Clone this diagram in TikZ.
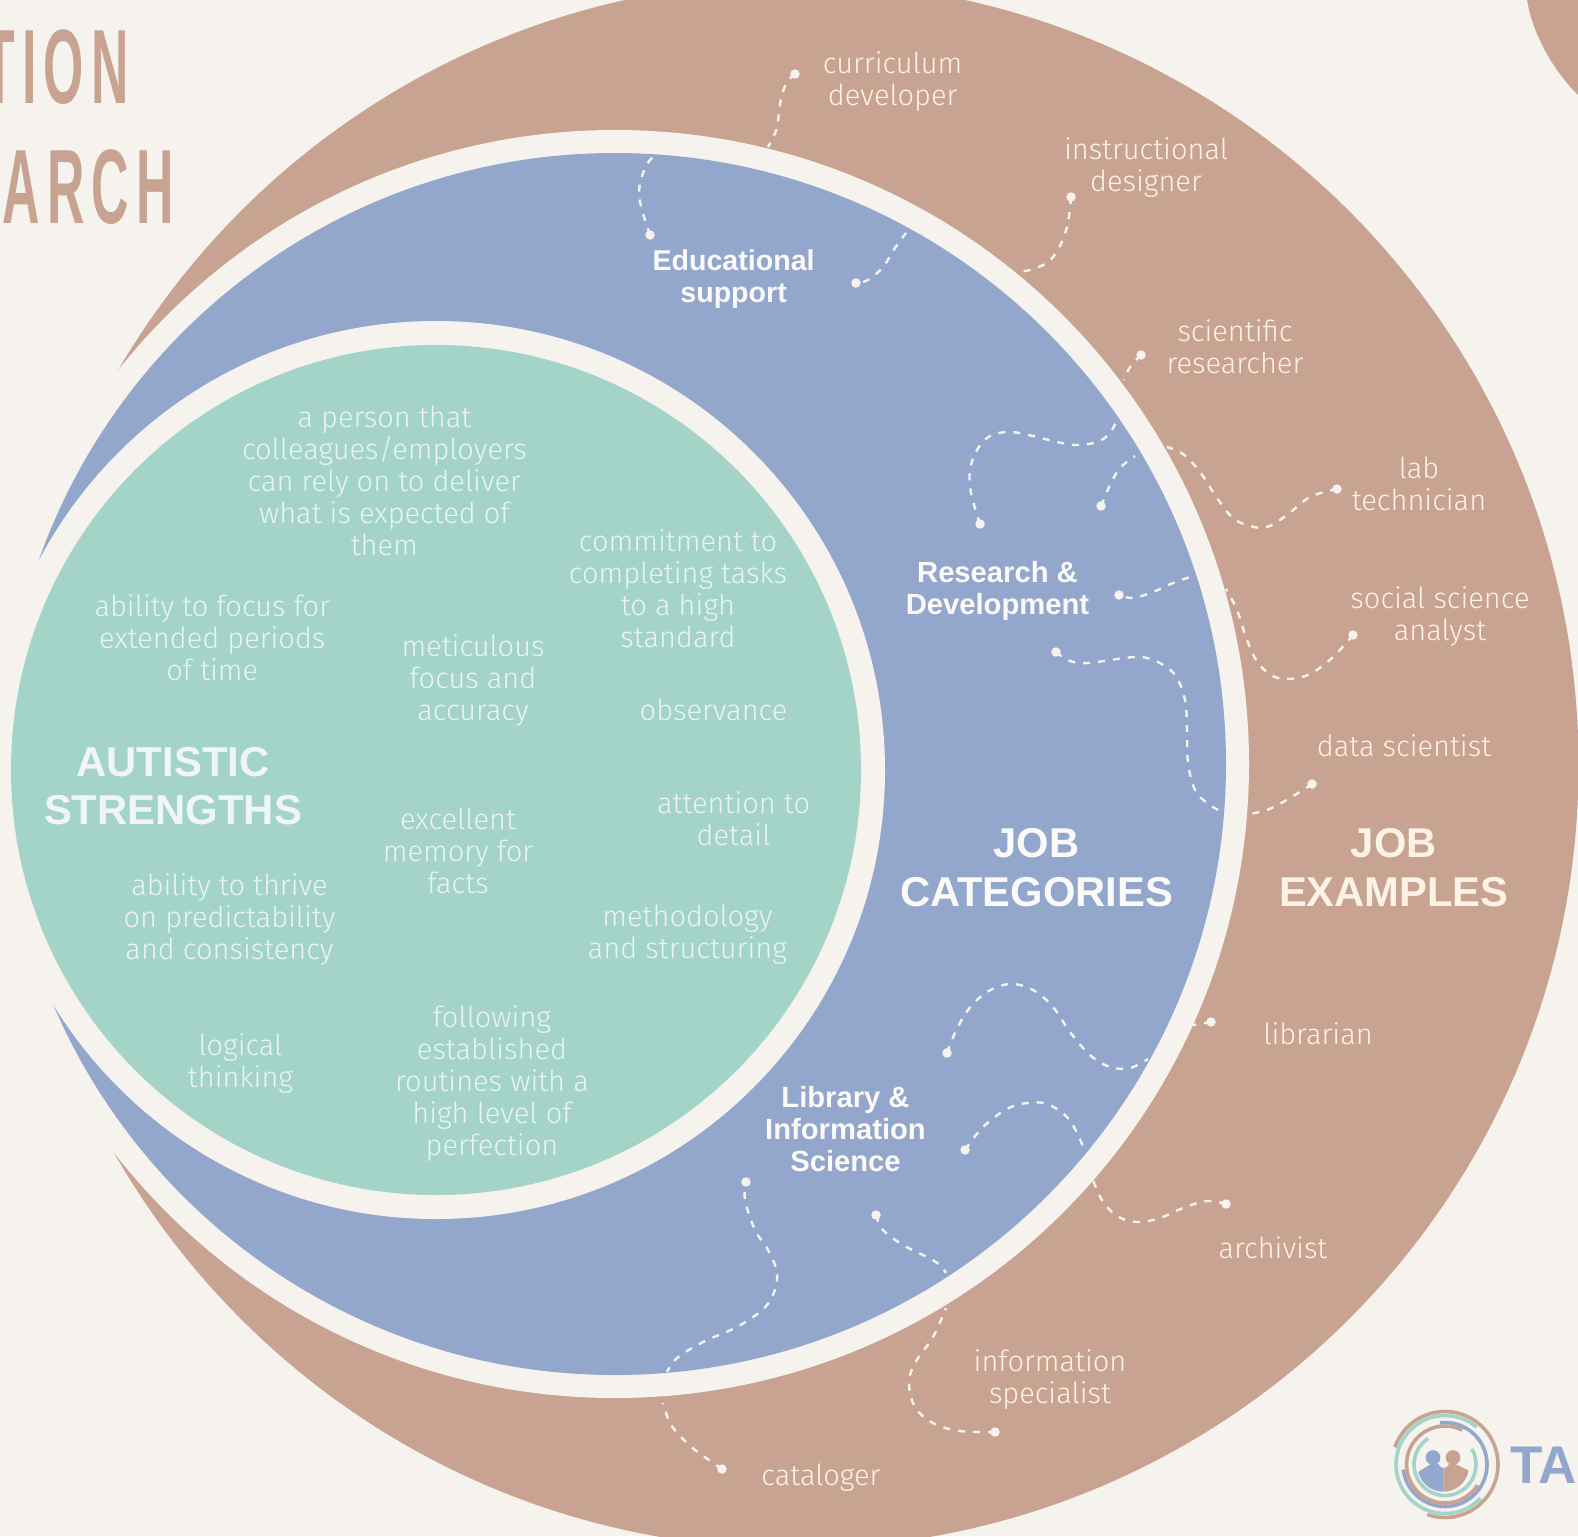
\documentclass[tikz,border=0pt]{standalone}
\usepackage{fontspec}
\setmainfont{Liberation Sans}
\newfontfamily\titlefont[LetterSpace=13.8]{Liberation Sans Bold}
\newfontfamily\lt{Fira Sans Light}
\definecolor{bg}{HTML}{F6F3EE}
\definecolor{brownc}{HTML}{C9A391}
\definecolor{bluec}{HTML}{93A7CC}
\definecolor{greenc}{HTML}{A4D4C8}
\definecolor{gtext}{HTML}{EAF3F6}
\definecolor{btext}{HTML}{FDF2E6}
\definecolor{gtitle}{HTML}{F0F4FB}
\definecolor{wtext}{HTML}{FBFAF8}
\tikzset{
 lbl/.style={align=center,inner sep=0,outer sep=0,execute at begin node={\strut},execute at end node={\strut}},
 gt/.style={lbl,yshift=-5pt,text=gtext,font=\fontsize{29}{32}\selectfont\lt},
 bt/.style={lbl,yshift=-5pt,text=btext,font=\fontsize{29}{32}\selectfont\lt},
 cat/.style={lbl,yshift=-5pt,text=wtext,font=\fontsize{29.2}{32}\selectfont\bfseries},
 bigg/.style={lbl,yshift=-7pt,text=gtitle,font=\fontsize{41.8}{48}\selectfont\bfseries},
 bigw/.style={lbl,yshift=-8pt,text=wtext,font=\fontsize{41.7}{49}\selectfont\bfseries},
 bigb/.style={lbl,yshift=-8pt,text=btext,font=\fontsize{41.7}{49}\selectfont\bfseries},
 ttl/.style={inner sep=0,outer sep=0,anchor=base west,text=brownc,font=\fontsize{105.7}{114}\titlefont},
 dotn/.style={circle,fill=bg,inner sep=0,minimum size=9.5pt},
 conn/.style={draw=bg,line width=2.4pt,dash pattern=on 7pt off 8pt},
 lg/.style={line width=3.6pt}
}
\newcommand{\curve}[2][]{\draw[conn,#1] plot[smooth,tension=.6] coordinates {#2};}
\begin{document}
\begin{tikzpicture}[x=1pt,y=1pt,yscale=-1]
\useasboundingbox (0,0) rectangle (1578,1536);
\clip (0,0) rectangle (1578,1536);
\fill[bg] (0,0) rectangle (1578,1536);
% rings
\fill[brownc] (795,765) circle[radius=783.5];
\fill[brownc] (1527,0) .. controls (1533,35) and (1553,70) .. (1578,95) -- (1578,0) -- cycle;
\fill[bg] (615,764) circle[radius=634];
\fill[bluec] (615,764) circle[radius=611];
\fill[bg] (436,770) circle[radius=449];
\fill[greenc] (436,770) circle[radius=425];
% title
\node[ttl] (t1) at (-16.6,103) {\scalebox{0.49}[1]{TION}};
\node[ttl] (t2) at (2.5,223) {\scalebox{0.49}[1]{ARCH}};
% strengths
\node[bigg] (as) at (173,786) {AUTISTIC\\STRENGTHS};
\node[gt] (g1) at (384.4,480.5) {a person that\\colleagues/employers\\can rely on to deliver\\what is expected of\\them};
\node[gt] (g2) at (212.3,637) {ability to focus for\\extended periods\\of time};
\node[gt] (g3) at (473,677) {meticulous\\focus and\\accuracy};
\node[gt] (g4) at (678,588) {commitment to\\completing tasks\\to a high\\standard};
\node[gt] (g5) at (713.5,709.5) {observance};
\node[gt] (g6) at (733.6,818) {attention to\\detail};
\node[gt] (g7) at (458,851) {excellent\\memory for\\facts};
\node[gt] (g8) at (687.4,932) {methodology\\and structuring};
\node[gt] (g9) at (229.5,916) {ability to thrive\\on predictability\\and consistency};
\node[gt] (g10) at (240.5,1060) {logical\\thinking};
\node[gt] (g11) at (492,1080) {following\\established\\routines with a\\high level of\\perfection};
% categories
\node[cat,font=\fontsize{28.6}{32}\selectfont\bfseries] (c1) at (733.6,276) {Educational\\support};
\node[cat] (c2) at (997.5,588) {Research \&\\Development};
\node[cat] (c3) at (845.5,1128.6) {Library \&\\Information\\Science};
\node[bigw] (jc) at (1036.6,866.5) {JOB\\CATEGORIES};
\node[bigb] (je) at (1393.8,866.5) {JOB\\EXAMPLES};
% examples
\node[bt] (e1) at (892.7,78.5) {curriculum\\developer};
\node[bt] (e2) at (1146,164) {instructional\\designer};
\node[bt] (e3) at (1235,346) {scientific\\researcher};
\node[bt] (e4) at (1419,484) {lab\\technician};
\node[bt] (e5) at (1440,613) {social science\\analyst};
\node[bt] (e6) at (1404,745) {data scientist};
\node[bt] (e7) at (1318,1033) {librarian};
\node[bt] (e8) at (1273,1247) {archivist};
\node[bt] (e9) at (1050,1376) {information\\specialist};
\node[bt] (e10) at (821,1474) {cataloger};
% dots
\foreach \n/\p in {d1/{795,74},d2/{650,235},d3/{1071,197},d4/{856,283},d5/{1141,355},d6/{980,524},d7/{1101,506},d8/{1337,489},d9/{1119,595},d10/{1353,635},d11/{1056,652},d12/{1312,784},d13/{947,1053},d14/{1211,1022},d15/{965,1150},d16/{1226,1204},d17/{746,1182},d18/{722,1469},d19/{876,1215},d20/{995,1432}}
  {\node[dotn] (\n) at (\p) {};}
% connector ends at the ring
\coordinate (r1) at (768,147); \coordinate (r2) at (658,154);
\coordinate (r3) at (1020,272); \coordinate (r4) at (906,233);
\coordinate (r5) at (1124,380); \coordinate (r6) at (1118,417);
\coordinate (r7) at (1167,447); \coordinate (r8) at (1135,456);
\coordinate (r9) at (1226,589); \coordinate (r10) at (1190,577);
\coordinate (r11) at (1248,814); \coordinate (r12) at (1222,812);
\coordinate (r13) at (1193,1025); \coordinate (r14) at (1148,1059);
\coordinate (r15) at (1093,1180); \coordinate (r16) at (1085,1152);
\coordinate (r17) at (663,1403); \coordinate (r18) at (667,1372);
\coordinate (r19) at (946,1308); \coordinate (r20) at (946,1273);
\curve{(d1) (787,82) (782,95) (779,110) (777,128) (r1)}
\curve{(d2) (642,210) (639,192) (643,173) (650,160) (r2)}
\curve{(d3) (1070,208) (1067,227) (1059,248) (1048,262) (1033,269) (r3)}
\curve[dash phase=8pt]{(d4) (868,280) (883,267) (895,248) (r4)}
\curve{(d5) (1130,367) (r5)}
\curve{(d6) (971,493) (970,470) (977,450) (990,436) (1010,432) (1033,436) (1057,442) (1077,445) (1097,442) (1110,433) (r6)}
\curve{(d7) (1110,485) (1120,468) (r8)}
\curve{(d8) (1310,497) (1287,515) (1267,527) (1250,526) (1233,518) (1217,498) (1200,472) (1183,454) (r7)}
\curve[dash phase=8pt]{(d9) (1133,598) (1153,592) (1173,583) (r10)}
\curve{(d10) (1333,657) (1310,674) (1288,679) (1273,676) (1258,663) (1247,640) (1237,610) (r9)}
\curve{(d11) (1070,661) (1088,663) (1117,659) (1140,657) (1158,662) (1175,675) (1185,700) (1187,730) (1188,763) (1195,790) (1207,803) (r12)}
\curve{(d12) (1290,798) (1267,810) (r11)}
\curve{(d13) (955,1033) (968,1010) (987,992) (1010,984) (1033,990) (1053,1007) (1070,1032) (1090,1055) (1110,1067) (1130,1068) (r14)}
\curve{(d14) (r13)}
\curve{(d15) (983,1127) (1007,1109) (1027,1103) (1047,1104) (1067,1117) (1078,1135) (r16)}
\curve{(d16) (1207,1201) (1183,1208) (1160,1218) (1137,1222) (1117,1216) (1102,1200) (r15)}
\curve[dash phase=5pt]{(d17) (745,1200) (755,1230) (768,1250) (777,1273) (773,1295) (762,1310) (737,1327) (703,1342) (677,1358) (r18)}
\curve{(d18) (695,1450) (682,1438) (670,1423) (r17)}
\curve{(d19) (883,1230) (903,1245) (927,1257) (940,1265) (r20)}
\curve{(d20) (960,1431) (933,1423) (915,1407) (909,1383) (915,1363) (933,1337) (r19)}
% logo
\coordinate (lc) at (1445,1464.5);
\draw[lg,brownc] (lc) ++(109.6:53) arc[start angle=109.6,end angle=-161,radius=53];
\draw[lg,greenc] (lc) ++(-49.6:49) arc[start angle=-49.6,end angle=-316.5,radius=49];
\draw[lg,bluec] (lc) ++(-97:42) arc[start angle=-97,end angle=173,radius=42];
\draw[lg,brownc] (lc) ++(-63.6:38.5) arc[start angle=-63.6,end angle=-327.7,radius=38.5];
\draw[lg,greenc] (lc) ++(-122.7:31) arc[start angle=-122.7,end angle=-390.3,radius=31];
\fill[bluec] (1433,1457.5) circle[radius=7.4];
\fill[brownc] (1453,1457.5) circle[radius=7.4];
\fill[bluec] (1443.3,1491.7) arc[start angle=90,end angle=167,radius=25.7] -- (1431,1464) -- (1438.5,1464) .. controls (1440,1467) and (1441.5,1468) .. (1443.3,1468) -- cycle;
\fill[brownc] (1443.3,1491.7) arc[start angle=90,end angle=10,radius=25.7] -- (1455,1464) -- (1449,1464) .. controls (1448,1467) and (1445.5,1468) .. (1443.3,1468) -- cycle;
\node[inner sep=0,outer sep=0,anchor=base west,text=bluec,font=\fontsize{53}{60}\selectfont\bfseries] (ta) at (1510,1483) {TA};
\end{tikzpicture}
\end{document}
